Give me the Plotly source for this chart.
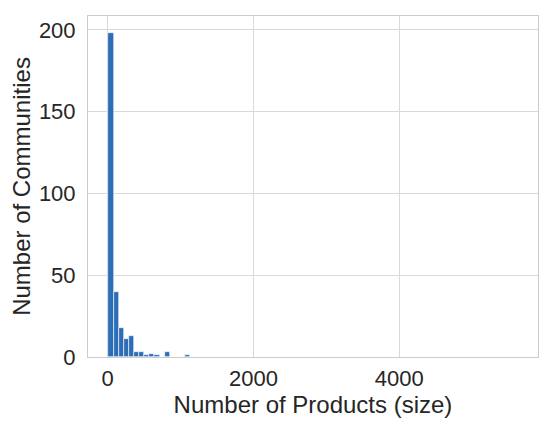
import plotly.graph_objects as go

# Histogram of community sizes (80 bins over the data range)
bin_start = 11.0
bin_width = 70.1
counts = [198, 40, 18, 11, 13, 3, 3, 1, 2, 1, 0, 3, 0, 0, 0, 1]

x_ticks = [0, 2000, 4000]
y_ticks = [0, 50, 100, 150, 200]

centers = [bin_start + bin_width * (i + 0.5) for i in range(len(counts))]

fig = go.Figure()
fig.add_trace(go.Bar(
    x=centers, y=counts, width=bin_width,
    marker=dict(color="#2d6db5", line=dict(color="white", width=0.6)),
))

font_family = "Liberation Sans, Arial, sans-serif"
# page body has an 8px margin, so the figure is sized to fit inside it
fig.update_layout(
    width=534, height=410,
    margin=dict(l=80, r=4, t=8, b=61),
    plot_bgcolor="white", paper_bgcolor="white",
    showlegend=False,
    bargap=0,
    font=dict(family=font_family, size=22, color="#262626"),
)
fig.update_xaxes(
    automargin=False,
    range=[-269, 5902], tickvals=x_ticks, ticktext=[str(v) for v in x_ticks],
    showgrid=True, gridcolor="#d9d9d9", gridwidth=1, zeroline=False,
    showline=True, linecolor="#cccccc", linewidth=1, mirror=True,
    ticks="", tickfont=dict(size=22), ticklabelstandoff=2,
    title=dict(text="Number of Products (size)", font=dict(size=24), standoff=4),
)
fig.update_yaxes(
    automargin=False,
    range=[0, 208.5], tickvals=y_ticks, ticktext=[str(v) for v in y_ticks],
    showgrid=True, gridcolor="#d9d9d9", gridwidth=1, zeroline=False,
    showline=True, linecolor="#cccccc", linewidth=1, mirror=True,
    ticks="", tickfont=dict(size=22), ticklabelstandoff=7,
    title=dict(text="Number of Communities", font=dict(size=24), standoff=8),
)

fig.write_html("out.html")
